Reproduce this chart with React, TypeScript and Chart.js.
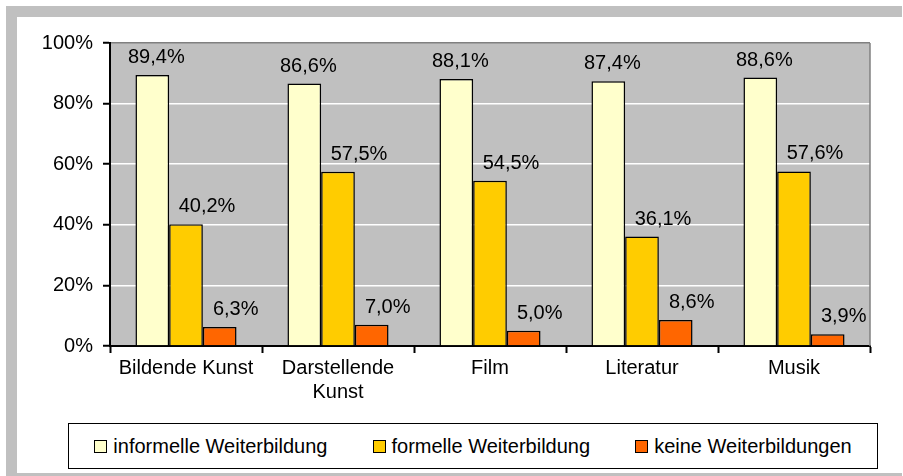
import React, { useEffect, useRef } from "react";
import { Chart, registerables } from "chart.js";

Chart.register(...registerables);

const categoryLabels: string[][] = [["Bildende Kunst"], ["Darstellende", "Kunst"], ["Film"], ["Literatur"], ["Musik"]];
const seriesNames = ["informelle Weiterbildung", "formelle Weiterbildung", "keine Weiterbildungen"];
const informelle = [89.4, 86.6, 88.1, 87.4, 88.6];
const formelle = [40.2, 57.5, 54.5, 36.1, 57.6];
const keine = [6.3, 7.0, 5.0, 8.6, 3.9];
const yTickValues = [0, 20, 40, 60, 80, 100];

const seriesColors = ["#FFFFCC", "#FFCC00", "#FF6600"];
const labelShift = [4, 21, 16];
const FONT = 'Arial, "Liberation Sans", sans-serif';

const fmt = (v: number) => v.toFixed(1).replace(".", ",") + "%";

export default function App() {
  const ref = useRef<HTMLCanvasElement | null>(null);

  useEffect(() => {
    if (!ref.current) return;
    const plotBg = {
      id: "plotBg",
      beforeDraw(chart: any) {
        const { ctx, chartArea } = chart;
        ctx.save();
        ctx.fillStyle = "#C0C0C0";
        ctx.fillRect(chartArea.left, chartArea.top, chartArea.right - chartArea.left, chartArea.bottom - chartArea.top);
        ctx.restore();
      },
      afterDraw(chart: any) {
        const { ctx, chartArea } = chart;
        ctx.save();
        ctx.strokeStyle = "#808080";
        ctx.lineWidth = 1.5;
        ctx.beginPath();
        ctx.moveTo(chartArea.right, chartArea.top);
        ctx.lineTo(chartArea.right, chartArea.bottom);
        ctx.stroke();
        ctx.restore();
      },
    };
    const valueLabels = {
      id: "valueLabels",
      afterDatasetsDraw(chart: any) {
        const { ctx } = chart;
        ctx.save();
        ctx.font = "20px " + FONT;
        ctx.fillStyle = "#000";
        ctx.textAlign = "center";
        ctx.textBaseline = "alphabetic";
        chart.data.datasets.forEach((ds: any, di: number) => {
          const meta = chart.getDatasetMeta(di);
          meta.data.forEach((el: any, i: number) => {
            ctx.fillText(fmt(ds.data[i]), el.x + labelShift[di], el.y - 12);
          });
        });
        ctx.restore();
      },
    };

    const chart = new Chart(ref.current, {
      type: "bar",
      data: {
        labels: categoryLabels as any,
        datasets: [
          { label: seriesNames[0], data: informelle, backgroundColor: seriesColors[0] },
          { label: seriesNames[1], data: formelle, backgroundColor: seriesColors[1] },
          { label: seriesNames[2], data: keine, backgroundColor: seriesColors[2] },
        ].map((d) => ({
          ...d,
          borderColor: "#000",
          borderWidth: 1.5,
          categoryPercentage: 0.665,
          barPercentage: 1,
        })),
      },
      options: {
        responsive: false,
        maintainAspectRatio: false,
        animation: false,
        layout: { padding: { top: 43, right: 33, left: 0, bottom: 70 } },
        plugins: { legend: { display: false }, tooltip: { enabled: false } },
        scales: {
          x: {
            offset: true,
            grid: {
              drawOnChartArea: false,
              drawTicks: true,
              tickLength: 7,
              tickColor: "#000",
              tickWidth: 2,
            },
            border: { color: "#000", width: 2 },
            ticks: { color: "#000", font: { family: FONT, size: 20 }, padding: 3, maxRotation: 0, autoSkip: false },
            afterFit(scale: any) {
              scale.height = 60;
            },
          },
          y: {
            min: 0,
            max: 100,
            afterBuildTicks(scale: any) {
              scale.ticks = yTickValues.map((v) => ({ value: v }));
            },
            grid: {
              color: (c: any) => (c.tick && c.tick.value === 100 ? "#808080" : "#FFFFFF"),
              lineWidth: 1.5,
              drawTicks: true,
              tickLength: 7,
              tickColor: "#000",
              tickWidth: 2,
            },
            border: { color: "#000", width: 2 },
            ticks: {
              color: "#000",
              font: { family: FONT, size: 20 },
              padding: 10,
              callback: (v: any) => v + "%",
            },
            afterFit(scale: any) {
              scale.width = 110;
            },
          },
        },
      },
      plugins: [plotBg, valueLabels],
    });
    return () => chart.destroy();
  }, []);

  return (
    <div style={{ position: "fixed", left: 0, top: 0, width: 903, height: 476, background: "#fff", overflow: "hidden" }}>
      <div style={{ position: "absolute", left: 6, top: 6, width: 896, height: 470, background: "#C0C0C0" }} />
      <div style={{ position: "absolute", left: 17, top: 17, width: 886, height: 456, background: "#fff" }} />
      <canvas ref={ref} width={903} height={476} style={{ position: "absolute", left: 0, top: 0, width: 903, height: 476 }} />
      <div
        style={{
          position: "absolute",
          left: 68,
          top: 423,
          width: 810,
          height: 46,
          boxSizing: "border-box",
          border: "1.5px solid #000",
          background: "#fff",
          display: "flex",
          alignItems: "center",
          justifyContent: "center",
          gap: 45,
          font: "20px " + FONT,
          color: "#000",
        }}
      >
        {seriesNames.map((n, i) => (
          <div key={n} style={{ display: "flex", alignItems: "center" }}>
            <span
              style={{
                display: "inline-block",
                width: 13,
                height: 13,
                boxSizing: "border-box",
                border: "1.5px solid #000",
                background: seriesColors[i],
                marginRight: 6,
              }}
            />
            <span>{n}</span>
          </div>
        ))}
      </div>
    </div>
  );
}
